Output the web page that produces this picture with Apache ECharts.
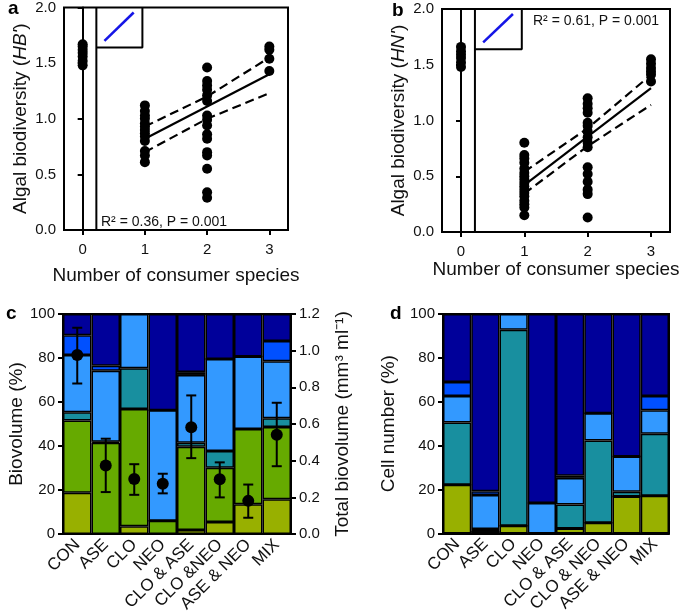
<!DOCTYPE html>
<html>
<head>
<meta charset="utf-8">
<script src="https://cdn.jsdelivr.net/npm/echarts@6/dist/echarts.min.js"></script>
<style>
  html, body { margin: 0; padding: 0; background: #fff; }
  #chart { width: 685px; height: 615px; }
</style>
</head>
<body>
<div id="chart"></div>
<script>
// panel a / b : consumer richness vs algal diversity
var consumerTicks = [0, 1, 2, 3];
var hb0 = [1.48, 1.52, 1.56, 1.59, 1.62, 1.65, 1.67];
var hb1 = [0.61, 0.67, 0.71, 0.80, 0.84, 0.87, 0.90, 0.93, 0.96, 1.00, 1.03, 1.07, 1.12];
var hb2 = [0.29, 0.34, 0.55, 0.67, 0.70, 0.82, 0.86, 0.94, 0.99, 1.03, 1.16, 1.21, 1.26, 1.30, 1.34, 1.46];
var hb3 = [1.43, 1.54, 1.62, 1.65];
var hbFit = [[1, 0.82], [3, 1.40]];
var hbUpper = [[1, 0.93], [2, 1.20], [3, 1.55]];
var hbLower = [[1, 0.70], [2, 1.00], [3, 1.23]];

var hn0 = [1.48, 1.52, 1.56, 1.59, 1.62, 1.66];
var hn1 = [0.15, 0.22, 0.25, 0.28, 0.32, 0.35, 0.38, 0.41, 0.44, 0.47, 0.50, 0.53, 0.57, 0.62, 0.66, 0.69, 0.80];
var hn2 = [0.13, 0.34, 0.38, 0.45, 0.52, 0.58, 0.76, 0.80, 0.85, 0.90, 0.95, 0.98, 1.07, 1.11, 1.15, 1.20];
var hn3 = [1.35, 1.41, 1.44, 1.47, 1.51, 1.55];
var hnFit = [[1, 0.42], [3, 1.29]];
var hnUpper = [[1, 0.54], [2, 0.93], [3, 1.41]];
var hnLower = [[1, 0.345], [2, 0.77], [3, 1.14]];

// panel c / d : community composition
var treatC = ['CON', 'ASE', 'CLO', 'NEO', 'CLO & ASE', 'CLO &NEO', 'ASE & NEO', 'MIX'];
var treatD = ['CON', 'ASE', 'CLO', 'NEO', 'CLO & ASE', 'CLO & NEO', 'ASE & NEO', 'MIX'];
var layerColors = ['#98b000', '#66aa00', '#188f9f', '#3399ff', '#0050ff', '#00009a'];

var bvOlive = [18.8, 0, 3.5, 0, 1.8, 5.5, 13.6, 15.8];
var bvGreen = [32.8, 41.5, 53.3, 6.1, 37.9, 24.6, 34.1, 32.8];
var bvTeal = [3.7, 0.5, 18.6, 0, 1.8, 7.7, 0, 4.0];
var bvLight = [26.1, 32.2, 24.6, 50.2, 30.8, 41.8, 33.0, 25.9];
var bvBright = [8.9, 2.3, 0, 0, 1.3, 0, 0, 9.2];
var bvNavy = [9.7, 23.5, 0, 43.7, 26.4, 20.4, 19.3, 12.3];

var totalBio = [0.977, 0.374, 0.30, 0.274, 0.583, 0.299, 0.181, 0.542];
var totalLow = [0.821, 0.229, 0.214, 0.222, 0.414, 0.20, 0.089, 0.37];
var totalHigh = [1.125, 0.52, 0.381, 0.329, 0.756, 0.391, 0.27, 0.716];

var cnOlive = [22.2, 0.7, 3.5, 0, 2.2, 4.8, 16.8, 17.2];
var cnGreen = [0, 0, 0, 0, 0, 0, 0, 0];
var cnTeal = [28.4, 1.3, 89.3, 0, 11.0, 37.6, 2.2, 28.2];
var cnLight = [12.0, 15.5, 7.2, 13.9, 12.1, 12.4, 16.0, 10.7];
var cnBright = [6.4, 1.7, 0, 0, 1.0, 0, 0, 6.5];
var cnNavy = [31.0, 80.8, 0, 86.1, 73.7, 45.2, 65.0, 37.4];

var FONT = 'Arial, "Liberation Sans", sans-serif';

function pts(x, arr) {
  return arr.map(function (v) { return [x, v]; });
}

function scatterAxes(grid, name, nameGapX, nameGapY) {
  return {
    x: {
      gridIndex: grid, type: 'value', min: -0.3, max: 3.3,
      axisLine: { show: true, onZero: false, lineStyle: { color: '#000', width: 2 } },
      axisTick: { show: true, customValues: consumerTicks, length: 5, lineStyle: { color: '#000', width: 2 } },
      axisLabel: { customValues: consumerTicks, fontSize: 15, color: '#111', margin: 12, fontFamily: FONT },
      splitLine: { show: false },
      name: 'Number of consumer species', nameLocation: 'middle', nameGap: nameGapX,
      nameTextStyle: { fontSize: 19, color: '#111', fontFamily: FONT }
    },
    y: {
      gridIndex: grid, type: 'value', min: 0, max: 2, interval: 0.5,
      axisLine: { show: true, lineStyle: { color: '#000', width: 2 } },
      axisTick: { show: true, length: 5, lineStyle: { color: '#000', width: 2 } },
      axisLabel: { fontSize: 15, color: '#111', margin: 8, fontFamily: FONT,
        formatter: function (v) { return v.toFixed(1); } },
      splitLine: { show: false },
      name: name, nameLocation: 'middle', nameGap: nameGapY, nameRotate: 90,
      nameTextStyle: { fontSize: 19, color: '#111', fontFamily: FONT,
        rich: { i: { fontSize: 19, fontStyle: 'italic', color: '#111', fontFamily: FONT } } }
    }
  };
}

var axA = scatterAxes(0, "Algal biodiversity ({i|HB'})", 36, 34);
var axB = scatterAxes(1, "Algal biodiversity ({i|HN'})", 26, 34);

function barAxis(grid, cats) {
  return {
    gridIndex: grid, type: 'category', data: cats,
    axisLine: { lineStyle: { color: '#000', width: 2 } },
    axisTick: { alignWithLabel: true, length: 5, lineStyle: { color: '#000', width: 2 } },
    axisLabel: { rotate: 45, fontSize: 17, color: '#111', margin: 8, interval: 0, fontFamily: FONT },
    splitLine: { show: false }
  };
}

function pctAxis(grid, name, gap) {
  return {
    gridIndex: grid, type: 'value', min: 0, max: 100, interval: 20,
    axisLine: { show: true, lineStyle: { color: '#000', width: 2 } },
    axisTick: { show: true, length: 5, lineStyle: { color: '#000', width: 2 } },
    axisLabel: { fontSize: 15, color: '#111', margin: 8, fontFamily: FONT },
    splitLine: { show: false },
    name: name, nameLocation: 'middle', nameGap: gap, nameRotate: 90,
    nameTextStyle: { fontSize: 19, color: '#111', fontFamily: FONT }
  };
}

function stackSeries(xi, yi, stack, layers) {
  return layers.map(function (vals, k) {
    return {
      type: 'bar', xAxisIndex: xi, yAxisIndex: yi, stack: stack,
      data: vals, barCategoryGap: '0%',
      itemStyle: { color: layerColors[k], borderColor: '#000', borderWidth: 1.5 },
      silent: true
    };
  });
}

function dotSeries(xi, yi, arr) {
  return { type: 'scatter', xAxisIndex: xi, yAxisIndex: yi, data: arr,
    symbolSize: 10, itemStyle: { color: '#000', opacity: 1 }, z: 5 };
}

function lineSeries(xi, yi, arr, style) {
  return { type: 'line', xAxisIndex: xi, yAxisIndex: yi, data: arr, symbol: 'none',
    lineStyle: style, z: 4, silent: true };
}

var solid = { color: '#000', width: 2.2, type: 'solid' };
var dashed = { color: '#000', width: 2.2, type: [9, 5] };
var frame = { color: '#000', width: 2, type: 'solid' };
var blue = { color: '#1515e6', width: 2.5, type: 'solid' };

var series = [];
[[0, [hb0, hb1, hb2, hb3], hbFit, hbUpper, hbLower], [1, [hn0, hn1, hn2, hn3], hnFit, hnUpper, hnLower]]
  .forEach(function (p) {
    var g = p[0];
    p[1].forEach(function (arr, i) { series.push(dotSeries(g, g, pts(consumerTicks[i], arr))); });
    series.push(lineSeries(g, g, p[2], solid));
    series.push(lineSeries(g, g, p[3], dashed));
    series.push(lineSeries(g, g, p[4], dashed));
    // divider, inset box and inset legend line
    series.push(lineSeries(g, g, [[0.22, 0], [0.22, 2]], frame));
    series.push(lineSeries(g, g, [[0.22, 1.64], [0.96, 1.64], [0.96, 2]], frame));
    series.push(lineSeries(g, g, [[0.35, 1.70], [0.82, 1.955]], blue));
  });

series = series.concat(stackSeries(2, 2, 'c', [bvOlive, bvGreen, bvTeal, bvLight, bvBright, bvNavy]));
series.push({
  type: 'custom', xAxisIndex: 2, yAxisIndex: 3, z: 6,
  data: treatC.map(function (c, i) { return [i, totalLow[i], totalHigh[i]]; }),
  renderItem: function (params, api) {
    var lo = api.coord([api.value(0), api.value(1)]);
    var hi = api.coord([api.value(0), api.value(2)]);
    var w = 5, st = { stroke: '#000', lineWidth: 2 };
    return { type: 'group', children: [
      { type: 'line', shape: { x1: lo[0], y1: lo[1], x2: hi[0], y2: hi[1] }, style: st },
      { type: 'line', shape: { x1: lo[0] - w, y1: lo[1], x2: lo[0] + w, y2: lo[1] }, style: st },
      { type: 'line', shape: { x1: hi[0] - w, y1: hi[1], x2: hi[0] + w, y2: hi[1] }, style: st }
    ] };
  }
});
series.push({ type: 'scatter', xAxisIndex: 2, yAxisIndex: 3, data: totalBio,
  symbolSize: 12, itemStyle: { color: '#000', opacity: 1 }, z: 7 });
series = series.concat(stackSeries(3, 4, 'd', [cnOlive, cnGreen, cnTeal, cnLight, cnBright, cnNavy]));

var rightAxis = {
  gridIndex: 2, type: 'value', position: 'right', min: 0, max: 1.2, interval: 0.2,
  axisLine: { show: true, lineStyle: { color: '#000', width: 2 } },
  axisTick: { show: true, length: 5, lineStyle: { color: '#000', width: 2 } },
  axisLabel: { fontSize: 15, color: '#111', margin: 8, fontFamily: FONT,
    formatter: function (v) { return v.toFixed(1); } },
  splitLine: { show: false },
  name: 'Total biovolume (mm\u00b3 ml\u207b\u00b9)', nameLocation: 'middle', nameGap: 42, nameRotate: 90,
  nameTextStyle: { fontSize: 19, color: '#111', fontFamily: FONT }
};

var gridBox = { show: true, borderColor: '#000', borderWidth: 2, backgroundColor: 'transparent', containLabel: false };

function letter(t, x, y) {
  return { type: 'text', left: x, top: y,
    style: { text: t, fill: '#000', font: 'bold 19px ' + FONT } };
}

var option = {
  animation: false,
  backgroundColor: '#fff',
  textStyle: { fontFamily: FONT },
  grid: [
    Object.assign({ left: 64, top: 7, width: 224, height: 223 }, gridBox),
    Object.assign({ left: 442, top: 9, width: 228, height: 223 }, gridBox),
    Object.assign({ left: 63, top: 314, width: 228, height: 223 }, gridBox),
    Object.assign({ left: 443, top: 314, width: 226, height: 221 }, gridBox)
  ],
  xAxis: [axA.x, axB.x, barAxis(2, treatC), barAxis(3, treatD)],
  yAxis: [axA.y, axB.y, pctAxis(2, 'Biovolume (%)', 31), rightAxis, pctAxis(3, 'Cell number (%)', 45)],
  series: series,
  graphic: [
    letter('a', 8, -1),
    letter('b', 392, 1),
    letter('c', 6, 304),
    letter('d', 390, 304),
    { type: 'text', left: 101, top: 215,
      style: { text: 'R\u00b2 = 0.36, P = 0.001', font: '14px ' + FONT, fill: '#111' } },
    { type: 'text', left: 533, top: 14,
      style: { text: 'R\u00b2 = 0.61, P = 0.001', font: '14px ' + FONT, fill: '#111' } }
  ]
};

var chart = echarts.init(document.getElementById('chart'), null, { renderer: 'canvas' });
chart.setOption(option);
</script>
</body>
</html>
